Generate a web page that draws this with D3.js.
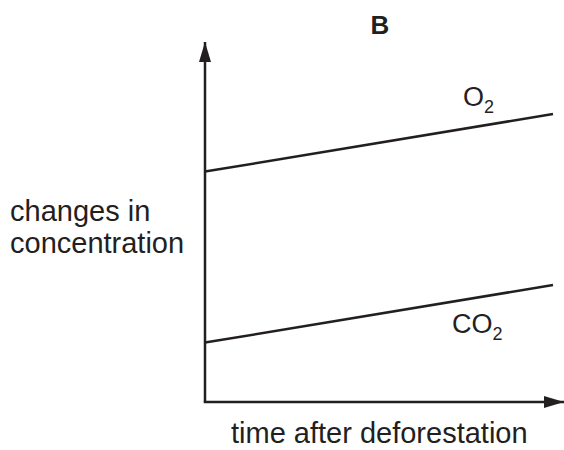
<!DOCTYPE html>
<html>
<head>
<meta charset="utf-8">
<script src="https://cdn.jsdelivr.net/npm/d3@7"></script>
<style>
	html, body { margin: 0; padding: 0; background: #fff; }
	text { font-family: "Liberation Sans", Arial, sans-serif; fill: #231f20; }
</style>
</head>
<body>
<div id="chart"></div>
<script>
// time after deforestation (arbitrary units)
var times = [0, 10];
// concentration levels (arbitrary units)
var o2Values = [6.4, 8.0];
var co2Values = [1.65, 3.25];
var seriesNames = ['O', 'CO'];

(function() {
	var width = 564, height = 450;
	var ink = '#231f20';

	var svg = d3.select('#chart')
		.append('svg')
			.attr('width', width)
			.attr('height', height);

	// Scales
	var x = d3.scaleLinear().domain([0, 10]).range([205, 553]);
	var y = d3.scaleLinear().domain([0, 10]).range([402, 42]);
	var xMax = x.invert(564), yMax = 10;

	// Arrow heads
	var defs = svg.append('defs');
	defs.append('marker')
		.attr('id', 'arrow')
		.attr('viewBox', '0 0 20 12')
		.attr('refX', 20)
		.attr('refY', 6)
		.attr('markerUnits', 'userSpaceOnUse')
		.attr('markerWidth', 21)
		.attr('markerHeight', 12)
		.attr('orient', 'auto')
		.append('path')
			.attr('d', 'M0,0L20,6L0,12Z')
			.style('fill', ink);

	// Axes (no ticks, just the lines)
	svg.append('line')
		.attr('x1', x(0)).attr('y1', y(0))
		.attr('x2', x(0)).attr('y2', y(yMax))
		.style('stroke', ink).style('stroke-width', 2.5)
		.attr('marker-end', 'url(#arrow)');

	svg.append('line')
		.attr('x1', x(0) - 1.25).attr('y1', y(0))
		.attr('x2', x(xMax)).attr('y2', y(0))
		.style('stroke', ink).style('stroke-width', 2.5)
		.attr('marker-end', 'url(#arrow)');

	// Series
	var line = d3.line()
		.x(function(d) { return x(d[0]); })
		.y(function(d) { return y(d[1]); });

	[o2Values, co2Values].forEach(function(values) {
		svg.append('path')
			.datum(d3.zip(times, values))
			.attr('d', line)
			.style('fill', 'none')
			.style('stroke', ink)
			.style('stroke-width', 2.5);
	});

	// Series labels
	var labels = [
		{ name: seriesNames[0], x: 463, y: 106 },
		{ name: seriesNames[1], x: 452, y: 333 }
	];
	labels.forEach(function(l) {
		var t = svg.append('text')
			.attr('x', l.x)
			.attr('y', l.y)
			.style('font-size', '27px');
		t.append('tspan').text(l.name);
		t.append('tspan')
			.attr('dy', 7)
			.style('font-size', '18px')
			.text('2');
	});

	// Titles
	svg.append('text')
		.attr('x', 380)
		.attr('y', 34)
		.attr('text-anchor', 'middle')
		.style('font-size', '26px')
		.style('font-weight', 'bold')
		.text('B');

	svg.append('text')
		.attr('x', 10)
		.attr('y', 221)
		.style('font-size', '29px')
		.text('changes in');

	svg.append('text')
		.attr('x', 10)
		.attr('y', 253)
		.style('font-size', '29px')
		.text('concentration');

	svg.append('text')
		.attr('x', 231)
		.attr('y', 443)
		.style('font-size', '29px')
		.text('time after deforestation');
})();
</script>
</body>
</html>
